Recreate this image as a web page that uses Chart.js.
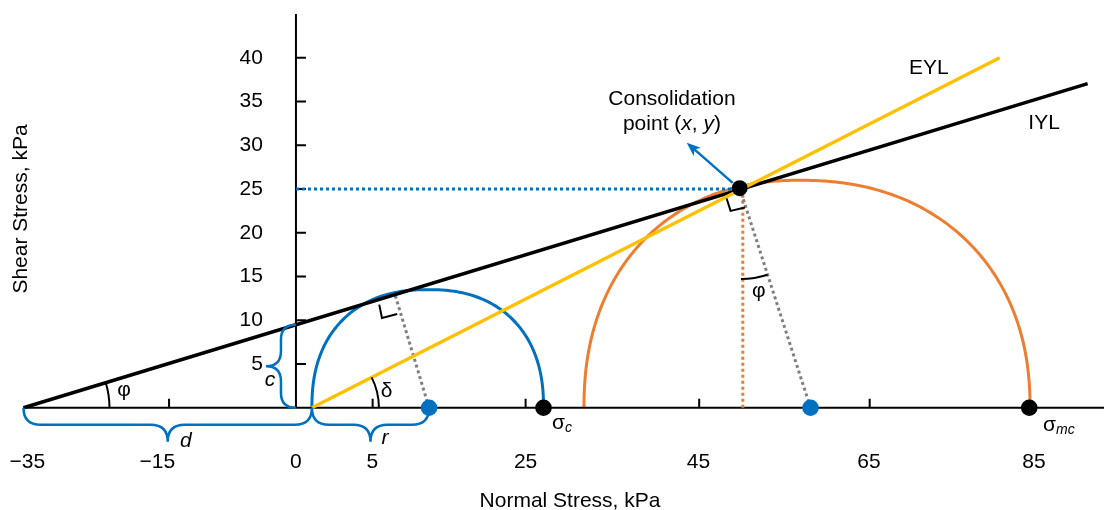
<!DOCTYPE html>
<html>
<head>
<meta charset="utf-8">
<script src="https://cdn.jsdelivr.net/npm/chart.js@4.4.1/dist/chart.umd.min.js"></script>
<style>
  html, body { margin: 0; padding: 0; background: #ffffff; }
  canvas { display: block; }
</style>
</head>
<body>
<canvas id="mohr" width="1105" height="510"></canvas>
<script>
// ---- Axis labelling -------------------------------------------------------
const xLabelPositions = [-34.5, -17.8, 0, 9.8, 29.5, 51.7, 73.6, 94.8];
const xLabelTexts = ['\u221235', '\u221215', '0', '5', '25', '45', '65', '85'];
const xTickMarks = [-16.3, 9.85, 29.5, 51.8, 73.7];
const yTicks = [5, 10, 15, 20, 25, 30, 35, 40];

// ---- Yield loci (normal stress, shear stress) -----------------------------
const iylLine = [[-35, 0], [101.7, 37.05]];
const eylLine = [[2.05, 0], [90.4, 40.0]];

// ---- Marked points ----------------------------------------------------------
const consolidationPoint = [[57.0, 25.1]];
const principalStresses = [[31.8, 0], [94.2, 0]];      // sigma_c, sigma_mc
const circleCentres = [[17.1, 0], [66.1, 0]];

// ---- Guide lines ------------------------------------------------------------
const shearGuide = [[0, 25.0], [56.0, 25.0]];
const normalGuide = [[57.4, 0], [57.4, 24.4]];
const radiusSmall = [[17.1, 0], [12.71, 12.97]];
const radiusLarge = [[66.1, 0], [57.0, 25.1]];

// ---- Mohr semicircles: centre, half-width left, half-width right, height ----
const unconfinedCircle = [17.0, 14.95, 14.8, 13.5];
const consolidationCircle = [64.7, 27.7, 29.6, 26.0];

// ---- Construction details ---------------------------------------------------
const rightAngleSmall = [[10.70, 11.79], [11.05, 10.25], [13.01, 10.71]];
const rightAngleLarge = [[55.32, 23.91], [55.83, 22.50], [57.67, 22.88]];
const flowArrow = [[56.1, 25.7], [50.2, 30.3]];
const braceD = [[-35, 0], [2.05, 0]];
const braceR = [[2.05, 0], [17.1, 0]];
const braceC = [[0, 9.49], [0, 0]];

// ---- Styling ----------------------------------------------------------------
const FONT = "'Liberation Sans', Arial, Helvetica, sans-serif";
const FS = 21;
const BLUE = '#0070C0', ORANGE = '#ED7D31', GOLD = '#FFC000', GREY = '#7F7F7F', INK = '#000000';
const Y_LABEL_GAP = 33;          // gap between the shear axis and its labels, px

Chart.defaults.font.family = FONT;
Chart.defaults.font.size = FS;
Chart.defaults.color = INK;

const pts = arr => arr.map(p => ({ x: p[0], y: p[1] }));

function toPx(chart, p) {
  return [chart.scales.x.getPixelForValue(p[0]), chart.scales.y.getPixelForValue(p[1])];
}

// Semicircle traced through the scales, slightly squared-off as drawn
function drawLocus(chart, shape, color, exponent) {
  const [cx, left, right, h] = shape;
  const ctx = chart.ctx;
  const k = 2 / exponent;
  ctx.beginPath();
  for (let i = 0; i <= 240; i++) {
    const t = Math.PI * i / 240;
    const c = Math.cos(t), s = Math.sin(t);
    const dx = Math.sign(c) * Math.pow(Math.abs(c), k) * (c >= 0 ? right : left);
    const dy = Math.pow(s, k) * h;
    const [X, Y] = toPx(chart, [cx + dx, dy]);
    if (i === 0) ctx.moveTo(X, Y); else ctx.lineTo(X, Y);
  }
  ctx.strokeStyle = color;
  ctx.lineWidth = 3;
  ctx.lineJoin = 'round';
  ctx.stroke();
}

function drawBrace(ctx, a, b, h) {
  const dx = b[0] - a[0], dy = b[1] - a[1];
  const L = Math.hypot(dx, dy);
  const ux = dx / L, uy = dy / L, nx = -uy, ny = ux;
  const P = (s, n) => [a[0] + s * ux + n * nx, a[1] + s * uy + n * ny];
  const m = L / 2;
  ctx.beginPath();
  let p = P(0, 0); ctx.moveTo(p[0], p[1]);
  let c = P(0, h), e = P(h, h); ctx.quadraticCurveTo(c[0], c[1], e[0], e[1]);
  e = P(m - h, h); ctx.lineTo(e[0], e[1]);
  c = P(m, h); e = P(m, 2 * h); ctx.quadraticCurveTo(c[0], c[1], e[0], e[1]);
  c = P(m, h); e = P(m + h, h); ctx.quadraticCurveTo(c[0], c[1], e[0], e[1]);
  e = P(L - h, h); ctx.lineTo(e[0], e[1]);
  c = P(L, h); e = P(L, 0); ctx.quadraticCurveTo(c[0], c[1], e[0], e[1]);
  ctx.stroke();
}

function drawAngle(chart, vertex, dirA, dirB, radius) {
  const ctx = chart.ctx;
  const v = toPx(chart, vertex), a = toPx(chart, dirA), b = toPx(chart, dirB);
  const t1 = Math.atan2(a[1] - v[1], a[0] - v[0]);
  const t2 = Math.atan2(b[1] - v[1], b[0] - v[0]);
  ctx.beginPath();
  ctx.arc(v[0], v[1], radius, Math.min(t1, t2), Math.max(t1, t2));
  ctx.stroke();
}

function fontFor(style, size) {
  if (style === 'i') return `italic ${size}px ${FONT}`;
  if (style === 'sub') return `italic ${Math.round(size * 0.68)}px ${FONT}`;
  return `${size}px ${FONT}`;
}

function drawRuns(chart, runs, at, align) {
  const ctx = chart.ctx;
  const [x, y] = toPx(chart, at);
  const fonts = runs.map(r => fontFor(r[1], FS));
  const widths = runs.map((r, i) => { ctx.font = fonts[i]; return ctx.measureText(r[0]).width; });
  const total = widths.reduce((s, w) => s + w, 0);
  let cx = align === 'center' ? x - total / 2 : x;
  ctx.textAlign = 'left';
  ctx.textBaseline = 'alphabetic';
  runs.forEach((r, i) => {
    ctx.font = fonts[i];
    ctx.fillText(r[0], cx, y + (r[1] === 'sub' ? 3 : 0));
    cx += widths[i];
  });
}

// Annotation text: runs, anchor (data units, on the baseline), alignment
const annotations = [
  [[['EYL', '']], [81.3, 38.2], 'center'],
  [[['IYL', '']], [96.1, 31.9], 'center'],
  [[['Consolidation', '']], [48.3, 34.55], 'center'],
  [[['point (', ''], ['x', 'i'], [', ', ''], ['y', 'i'], [')', '']], [48.3, 31.69], 'center'],
  [[['\u03C3', ''], ['c', 'sub']], [32.9, -2.41], 'left'],
  [[['\u03C3', ''], ['mc', 'sub']], [95.98, -2.70], 'left'],
  [[['\u03C6', '']], [-22.09, 1.32], 'center'],
  [[['\u03B4', '']], [11.65, 1.26], 'center'],
  [[['\u03C6', '']], [59.47, 12.62], 'center'],
  [[['d', 'i']], [-14.13, -4.48], 'center'],
  [[['r', 'i']], [11.43, -4.10], 'center'],
  [[['c', 'i']], [-3.34, 2.53], 'center']
];

const diagramPlugin = {
  id: 'diagram',
  // the shear axis crosses at x = 0: hang its labels just left of that line
  afterLayout(chart) {
    const ys = chart.scales.y;
    ys.left = 0;
    ys.right = chart.scales.x.getPixelForValue(0) - Y_LABEL_GAP;
  },
  beforeDatasetsDraw(chart) {
    const ctx = chart.ctx;
    ctx.save();
    drawLocus(chart, unconfinedCircle, BLUE, 2.3);
    drawLocus(chart, consolidationCircle, ORANGE, 2.2);

    // tick marks pointing into the plot
    ctx.strokeStyle = INK;
    ctx.lineWidth = 2;
    const y0 = chart.scales.y.getPixelForValue(0);
    const x0 = chart.scales.x.getPixelForValue(0);
    ctx.beginPath();
    xTickMarks.forEach(v => {
      const X = chart.scales.x.getPixelForValue(v);
      ctx.moveTo(X, y0); ctx.lineTo(X, y0 - 9);
    });
    yTicks.forEach(v => {
      const Y = chart.scales.y.getPixelForValue(v);
      ctx.moveTo(x0, Y); ctx.lineTo(x0 + 10, Y);
    });
    ctx.stroke();
    ctx.restore();
  },
  afterDatasetsDraw(chart) {
    const ctx = chart.ctx;
    ctx.save();
    ctx.lineCap = 'butt';
    ctx.lineJoin = 'miter';

    // angle arcs
    ctx.strokeStyle = INK;
    ctx.lineWidth = 2;
    drawAngle(chart, iylLine[0], [0, 0], iylLine[1], 86);
    drawAngle(chart, eylLine[0], circleCentres[0], eylLine[1], 67);
    drawAngle(chart, consolidationPoint[0], normalGuide[0], radiusLarge[0], 91);

    // right-angle marks
    [rightAngleSmall, rightAngleLarge].forEach(mark => {
      ctx.beginPath();
      mark.forEach((p, i) => {
        const q = toPx(chart, p);
        if (i === 0) ctx.moveTo(q[0], q[1]); else ctx.lineTo(q[0], q[1]);
      });
      ctx.stroke();
    });

    // braces
    ctx.strokeStyle = BLUE;
    ctx.lineWidth = 2.5;
    drawBrace(ctx, toPx(chart, braceD[0]), toPx(chart, braceD[1]), 17);
    drawBrace(ctx, toPx(chart, braceR[0]), toPx(chart, braceR[1]), 17);
    drawBrace(ctx, toPx(chart, braceC[0]), toPx(chart, braceC[1]), 15);

    // arrow from the consolidation point
    const p0 = toPx(chart, flowArrow[0]), p1 = toPx(chart, flowArrow[1]);
    const ang = Math.atan2(p1[1] - p0[1], p1[0] - p0[0]);
    const L = 14, W = 5.5, cs = Math.cos(ang), sn = Math.sin(ang);
    ctx.strokeStyle = BLUE;
    ctx.fillStyle = BLUE;
    ctx.lineWidth = 2.5;
    ctx.beginPath();
    ctx.moveTo(p0[0], p0[1]);
    ctx.lineTo(p1[0] - cs * L * 0.7, p1[1] - sn * L * 0.7);
    ctx.stroke();
    ctx.beginPath();
    ctx.moveTo(p1[0], p1[1]);
    ctx.lineTo(p1[0] - L * cs + W * sn, p1[1] - L * sn - W * cs);
    ctx.lineTo(p1[0] - L * cs * 0.75, p1[1] - L * sn * 0.75);
    ctx.lineTo(p1[0] - L * cs - W * sn, p1[1] - L * sn + W * cs);
    ctx.closePath();
    ctx.fill();

    // text
    ctx.fillStyle = INK;
    annotations.forEach(a => drawRuns(chart, a[0], a[1], a[2]));

    // axis titles
    ctx.font = `${FS}px ${FONT}`;
    ctx.textAlign = 'center';
    ctx.textBaseline = 'alphabetic';
    ctx.fillText('Normal Stress, kPa', 570, 506.5);
    ctx.translate(27, 209);
    ctx.rotate(-Math.PI / 2);
    ctx.fillText('Shear Stress, kPa', 0, 0);
    ctx.restore();
  }
};

const lineSet = (data, color, width, dash) => ({
  data: pts(data), showLine: true, borderColor: color, borderWidth: width,
  borderDash: dash || [], pointRadius: 0, fill: false, tension: 0, clip: false
});
const dotSet = (data, color, radius) => ({
  data: pts(data), showLine: false, pointRadius: radius, pointHoverRadius: radius,
  pointBackgroundColor: color, pointBorderColor: color, pointBorderWidth: 0, clip: false
});

new Chart(document.getElementById('mohr'), {
  type: 'scatter',
  data: {
    datasets: [
      dotSet(consolidationPoint, INK, 8),
      dotSet(principalStresses, INK, 8.3),
      dotSet(circleCentres, BLUE, 8.3),
      lineSet(eylLine, GOLD, 3.4),
      lineSet(iylLine, INK, 3.5),
      lineSet(radiusSmall, GREY, 3, [3, 3]),
      lineSet(radiusLarge, GREY, 3, [3, 3]),
      lineSet(normalGuide, ORANGE, 3, [3, 3]),
      lineSet(shearGuide, BLUE, 3, [3, 3]),
      lineSet([[-35, 0], [103.8, 0]], INK, 2),
      lineSet([[0, 0], [0, 45]], INK, 2)
    ]
  },
  options: {
    responsive: false,
    animation: false,
    devicePixelRatio: 1,
    events: [],
    layout: { autoPadding: false, padding: { left: 23.5, right: 1, top: 14, bottom: 37.3 } },
    plugins: { legend: { display: false }, tooltip: { enabled: false } },
    scales: {
      x: {
        type: 'linear', position: 'bottom', min: -35, max: 103.8,
        grid: { display: false, drawTicks: false }, border: { display: false },
        afterBuildTicks: s => { s.ticks = xLabelPositions.map(v => ({ value: v })); },
        // end labels sit well inside the plot, so no extra side margin is needed
        afterFit: s => { s.paddingLeft = 0; s.paddingRight = 0; },
        ticks: {
          padding: -2, autoSkip: false, maxRotation: 0, minRotation: 0,
          font: { size: FS }, color: INK,
          callback: (v, i) => xLabelTexts[i]
        }
      },
      y: {
        type: 'linear', position: 'left', min: -5, max: 45,
        grid: { display: false, drawTicks: false }, border: { display: false },
        afterBuildTicks: s => { s.ticks = yTicks.map(v => ({ value: v })); },
        afterFit: s => { s.width = 0; },
        ticks: {
          padding: 0, autoSkip: false, font: { size: FS }, color: INK,
          callback: v => String(v)
        }
      }
    }
  },
  plugins: [diagramPlugin]
});
</script>
</body>
</html>
